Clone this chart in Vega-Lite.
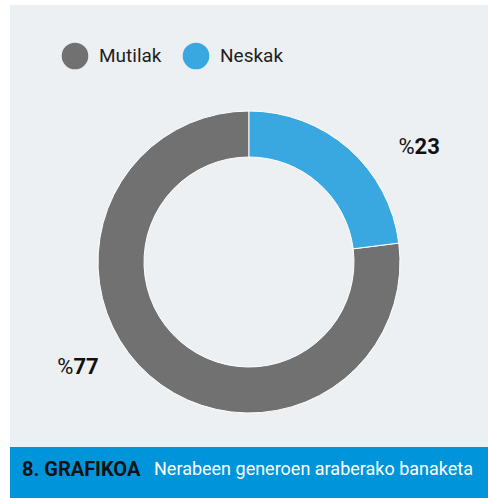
{
  "$schema": "https://vega.github.io/schema/vega-lite/v6.json",
  "background": "white",
  "padding": {"left": 10, "top": 5, "right": 0, "bottom": 0},
  "spacing": 0,
  "config": {"view": {"stroke": null}, "font": "Roboto"},
  "datasets": {
    "shares": [
      {"gender": "Mutilak", "pct": 77},
      {"gender": "Neskak", "pct": 23}
    ],
    "caption": [
      {"kind": "head", "text": "8. GRAFIKOA"},
      {"kind": "desc", "text": "Nerabeen generoen araberako banaketa"}
    ]
  },
  "vconcat": [
    {
      "width": 478,
      "height": 102,
      "view": {"fill": "#edf0f2", "stroke": null},
      "data": {"name": "shares"},
      "encoding": {
        "x": {"field": "gender", "type": "nominal", "scale": {"type": "point", "domain": ["Mutilak", "Neskak"], "range": [65, 186], "padding": 0}, "axis": null}
      },
      "layer": [
        {
          "mark": {"type": "point", "filled": true, "opacity": 1, "size": 707},
          "encoding": {
            "color": {"field": "gender", "type": "nominal", "scale": {"domain": ["Mutilak", "Neskak"], "range": ["#717171", "#3aa8e0"]}, "legend": null}
          }
        },
        {
          "mark": {"type": "text", "align": "left", "dx": 24, "fontSize": 19, "color": "#1e1e1e"},
          "encoding": {"text": {"field": "gender"}}
        }
      ]
    },
    {
      "width": 478,
      "height": 310,
      "view": {"fill": "#edf0f2", "stroke": null},
      "data": {"name": "shares"},
      "encoding": {
        "theta": {"field": "pct", "type": "quantitative", "stack": true},
        "order": {"field": "gender", "sort": "descending"}
      },
      "layer": [
        {
          "mark": {"type": "arc", "innerRadius": 105, "outerRadius": 151, "stroke": "#ffffff", "strokeWidth": 1},
          "encoding": {
            "color": {"field": "gender", "type": "nominal", "scale": {"domain": ["Mutilak", "Neskak"], "range": ["#717171", "#3aa8e0"]}, "legend": null}
          }
        },
        {
          "mark": {"type": "text", "radius": 203, "thetaOffset": 0.275, "align": "right", "fontSize": 22, "color": "#111111", "dx": -5, "dy": -5},
          "encoding": {"text": {"value": "%"}}
        },
        {
          "mark": {"type": "text", "radius": 203, "thetaOffset": 0.275, "align": "left", "fontSize": 22, "fontWeight": "bold", "color": "#111111", "dx": -5, "dy": -5},
          "encoding": {"text": {"field": "pct", "type": "quantitative"}}
        }
      ]
    },
    {
      "width": 478,
      "height": 30,
      "view": {"fill": "#edf0f2", "stroke": null},
      "data": {"values": []},
      "mark": "point",
      "encoding": {}
    },
    {
      "width": 478,
      "height": 51,
      "view": {"fill": "#0095da", "stroke": null},
      "data": {"name": "caption"},
      "encoding": {
        "x": {"field": "kind", "type": "nominal", "scale": {"type": "point", "domain": ["head", "desc"], "range": [12, 144], "padding": 0}, "axis": null},
        "text": {"field": "text"}
      },
      "layer": [
        {
          "transform": [{"filter": "datum.kind === 'head'"}],
          "mark": {"type": "text", "align": "left", "fontSize": 20, "fontWeight": "bold", "color": "#111111", "dy": -3}
        },
        {
          "transform": [{"filter": "datum.kind === 'desc'"}],
          "mark": {"type": "text", "align": "left", "fontSize": 18, "color": "#ffffff", "dy": -3}
        }
      ]
    }
  ]
}
